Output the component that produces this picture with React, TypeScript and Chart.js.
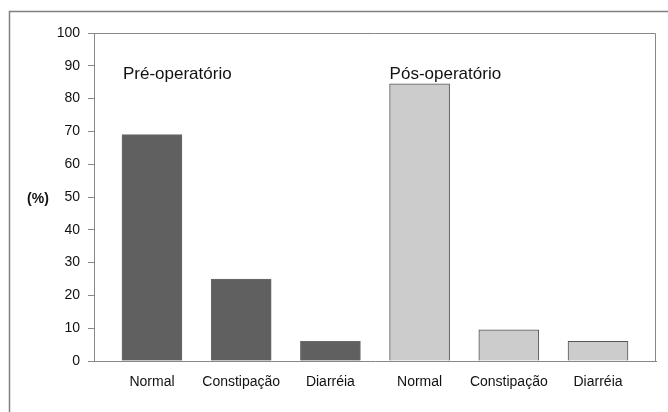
import React, { useEffect, useRef } from "react";
import { Chart, registerables } from "chart.js";

Chart.register(...registerables);

const categories = ["Normal", "Constipação", "Diarréia", "Normal", "Constipação", "Diarréia"];
const groupLabels = ["Pré-operatório", "Pós-operatório"];
const preValues = [69, 25, 6];
const postValues = [84.5, 9.5, 6];
const yMin = 0;
const yMax = 100;
const yStep = 10;
const yTitle = "(%)";

const FONT = "'Liberation Sans', Arial, Helvetica, sans-serif";

export default function App() {
  const ref = useRef<HTMLCanvasElement | null>(null);

  useEffect(() => {
    const canvas = ref.current;
    if (!canvas) return;

    const prePoints = preValues.map((v, i) => ({ x: i, y: v }));
    const postPoints = postValues.map((v, i) => ({ x: i + preValues.length, y: v }));

    const decor = {
      id: "decor",
      beforeDraw(chart: any) {
        const ctx = chart.ctx;
        ctx.save();
        ctx.fillStyle = "#ffffff";
        ctx.fillRect(0, 0, chart.width, chart.height);
        ctx.restore();
      },
      afterDraw(chart: any) {
        const ctx = chart.ctx;
        const { left, top, right, bottom } = chart.chartArea;
        const xs = chart.scales.x;
        const ys = chart.scales.y;
        ctx.save();
        // outer frame (left and top edges)
        ctx.strokeStyle = "#808080";
        ctx.lineWidth = 1.5;
        ctx.beginPath();
        ctx.moveTo(9.5, chart.height);
        ctx.lineTo(9.5, 11.5);
        ctx.lineTo(chart.width, 11.5);
        ctx.stroke();
        // plot box top and right
        ctx.lineWidth = 1;
        ctx.strokeStyle = "#888888";
        ctx.beginPath();
        ctx.moveTo(left, top + 0.5);
        ctx.lineTo(right - 0.5, top + 0.5);
        ctx.lineTo(right - 0.5, bottom);
        ctx.stroke();
        // group labels
        ctx.fillStyle = "#111111";
        ctx.font = `17px ${FONT}`;
        ctx.textAlign = "left";
        ctx.textBaseline = "alphabetic";
        const gy = ys.getPixelForValue(86);
        ctx.fillText(groupLabels[0], xs.getPixelForValue(0) - 29, gy);
        ctx.fillText(groupLabels[1], xs.getPixelForValue(preValues.length) - 30, gy);
        // y title
        ctx.font = `bold 14px ${FONT}`;
        ctx.textAlign = "center";
        ctx.textBaseline = "middle";
        ctx.fillText(yTitle, left - 56, (top + bottom) / 2 + 2);
        ctx.restore();
      },
    };

    const chart = new Chart(canvas, {
      type: "bar",
      data: {
        datasets: [
          {
            label: groupLabels[0],
            data: prePoints,
            backgroundColor: "#606060",
            borderColor: "#6a6a6a",
            borderWidth: 1,
            barThickness: 60,
            grouped: false,
          },
          {
            label: groupLabels[1],
            data: postPoints,
            backgroundColor: "#cccccc",
            borderColor: "#555555",
            borderWidth: 1,
            barThickness: 60,
            grouped: false,
          },
        ],
      } as any,
      options: {
        responsive: false,
        animation: false,
        layout: { padding: { left: 14, top: 33, right: 12, bottom: 0 } },
        plugins: {
          legend: { display: false },
          tooltip: { enabled: false },
          title: { display: false },
        },
        scales: {
          x: {
            type: "linear",
            offset: false,
            min: -0.65,
            max: categories.length - 1 + 0.65,
            grid: { display: false },
            border: { display: true, color: "#888888", width: 1 },
            ticks: {
              stepSize: 1,
              includeBounds: false,
              autoSkip: false,
              maxRotation: 0,
              padding: 5,
              color: "#111111",
              font: { family: FONT, size: 14 },
              callback: (v: any) => (Number.isInteger(v) && categories[v] !== undefined ? categories[v] : ""),
            },
            afterFit: (s: any) => {
              s.height = 51;
            },
          },
          y: {
            min: yMin,
            max: yMax,
            grid: { drawOnChartArea: false, tickLength: 6, color: "#888888" },
            border: { display: true, color: "#888888", width: 1 },
            ticks: {
              stepSize: yStep,
              padding: 8,
              color: "#111111",
              font: { family: FONT, size: 14 },
            },
            afterFit: (s: any) => {
              s.width = 80;
            },
          },
        },
      } as any,
      plugins: [decor],
    });

    return () => chart.destroy();
  }, []);

  return (
    <div style={{ position: "fixed", left: 0, top: 0, width: 668, height: 412, background: "#fff" }}>
      <canvas ref={ref} width={668} height={412} style={{ display: "block" }} />
    </div>
  );
}
